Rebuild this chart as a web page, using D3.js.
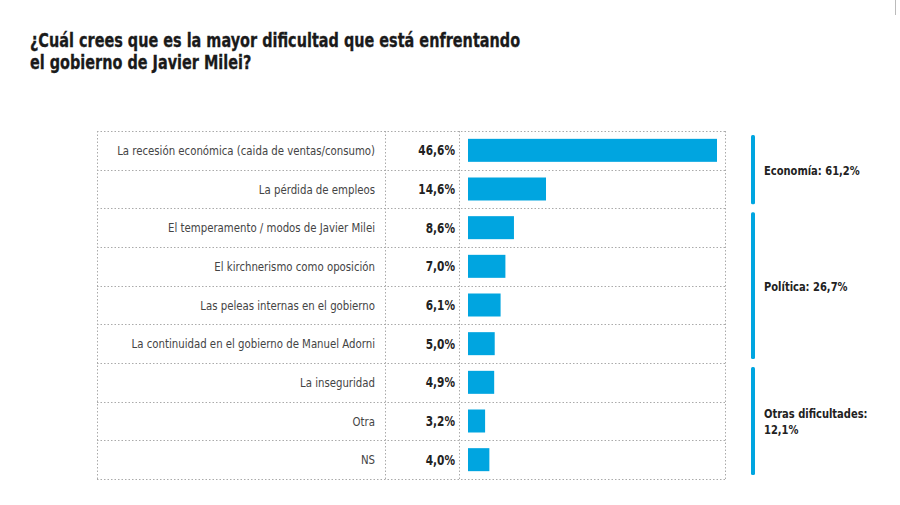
<!DOCTYPE html>
<html>
<head>
<meta charset="utf-8">
<script src="https://cdn.jsdelivr.net/npm/d3@7"></script>
<style>
  body { margin: 0; background: #fff; }
  svg { display: block; font-family: "DejaVu Sans Condensed", "DejaVu Sans", sans-serif; font-stretch: condensed; }
</style>
</head>
<body>
<div id="chart"></div>
<script>
const categories = [
  'La recesión económica (caida de ventas/consumo)',
  'La pérdida de empleos',
  'El temperamento / modos de Javier Milei',
  'El kirchnerismo como oposición',
  'Las peleas internas en el gobierno',
  'La continuidad en el gobierno de Manuel Adorni',
  'La inseguridad',
  'Otra',
  'NS',
];
const values = [46.6, 14.6, 8.6, 7.0, 6.1, 5.0, 4.9, 3.2, 4.0];
const groupNames = ['Economía: 61,2%', 'Política: 26,7%', 'Otras dificultades:|12,1%'];
const groupStart = [0, 2, 6];
const groupEnd = [1, 5, 8];

const width = 900, height = 505;
const fmt = v => d3.format('.1f')(v).replace('.', ',') + '%';

const svg = d3.select('#chart').append('svg')
  .attr('width', width).attr('height', height);

// condensed look: squeeze text horizontally
const squeeze = (tx, ty, sx) => `translate(${tx},${ty}) scale(${sx},1)`;

// title
const title = svg.append('text')
  .attr('transform', squeeze(30, 47, 0.845))
  .attr('font-size', 19).attr('font-weight', 'bold').attr('fill', '#1a1a1a')
  .attr('stroke', '#1a1a1a').attr('stroke-width', 0.3);
title.append('tspan').attr('x', 0).text('¿Cuál crees que es la mayor dificultad que está enfrentando');
title.append('tspan').attr('x', 0).attr('dy', 22.5).text('el gobierno de Javier Milei?');

// little mark top right
svg.append('line').attr('x1', 895.5).attr('x2', 895.5).attr('y1', 0).attr('y2', 15)
  .attr('stroke', '#bbb');

const tableLeft = 97, col1 = 385, col2 = 459, tableRight = 725;
const tableTop = 131, tableBottom = 479;

const y = d3.scaleBand().domain(d3.range(categories.length)).range([tableTop, tableBottom]);
const x = d3.scaleLinear().domain([0, 46.6]).range([468, 717]);

const grid = svg.append('g').attr('stroke', '#aaa').attr('stroke-dasharray', '1.5,2').attr('stroke-width', 1);
const rowLines = d3.range(categories.length + 1).map(i => i < categories.length ? y(i) : tableBottom);
grid.selectAll('line.h').data(rowLines).join('line')
  .attr('class', 'h')
  .attr('x1', tableLeft).attr('x2', tableRight)
  .attr('y1', d => Math.round(d) + 0.5).attr('y2', d => Math.round(d) + 0.5);
grid.selectAll('line.v').data([tableLeft, col1, col2, tableRight]).join('line')
  .attr('class', 'v')
  .attr('x1', d => d + 0.5).attr('x2', d => d + 0.5)
  .attr('y1', tableTop).attr('y2', tableBottom);

const bh = 23;
svg.append('g').selectAll('rect').data(values).join('rect')
  .attr('x', x(0))
  .attr('y', (d, i) => y(i) + (y.bandwidth() - bh) / 2)
  .attr('width', d => x(d) - x(0))
  .attr('height', bh)
  .attr('fill', '#00a5e0');

svg.append('g').selectAll('text').data(categories).join('text')
  .attr('transform', (d, i) => squeeze(375, y(i) + y.bandwidth() / 2 + 4.5, 0.905))
  .attr('text-anchor', 'end')
  .attr('font-size', 12.5).attr('fill', '#444')
  .text(d => d);

svg.append('g').selectAll('text').data(values).join('text')
  .attr('transform', (d, i) => squeeze(455, y(i) + y.bandwidth() / 2 + 5, 0.84))
  .attr('text-anchor', 'end')
  .attr('font-size', 14).attr('font-weight', 'bold').attr('fill', '#222')
  .text(d => fmt(d));

// group brackets
const groups = groupNames.map((n, i) => ({ name: n, s: groupStart[i], e: groupEnd[i] }));
const gg = svg.append('g').selectAll('g').data(groups).join('g');
gg.append('rect')
  .attr('x', 751).attr('width', 4)
  .attr('y', d => y(d.s) + 4)
  .attr('height', d => y(d.e) + y.bandwidth() - y(d.s) - 8)
  .attr('rx', 1.5)
  .attr('fill', '#00a5e0');
gg.each(function(d) {
  const lines = d.name.split('|');
  const mid = (y(d.s) + y(d.e) + y.bandwidth()) / 2;
  const t = d3.select(this).append('text')
    .attr('transform', squeeze(764, mid + 5 - (lines.length - 1) * 8, 0.85))
    .attr('font-size', 13).attr('font-weight', 'bold').attr('fill', '#222');
  lines.forEach((l, k) => {
    t.append('tspan').attr('x', 0).attr('y', k * 16).text(l);
  });
});
</script>
</body>
</html>
